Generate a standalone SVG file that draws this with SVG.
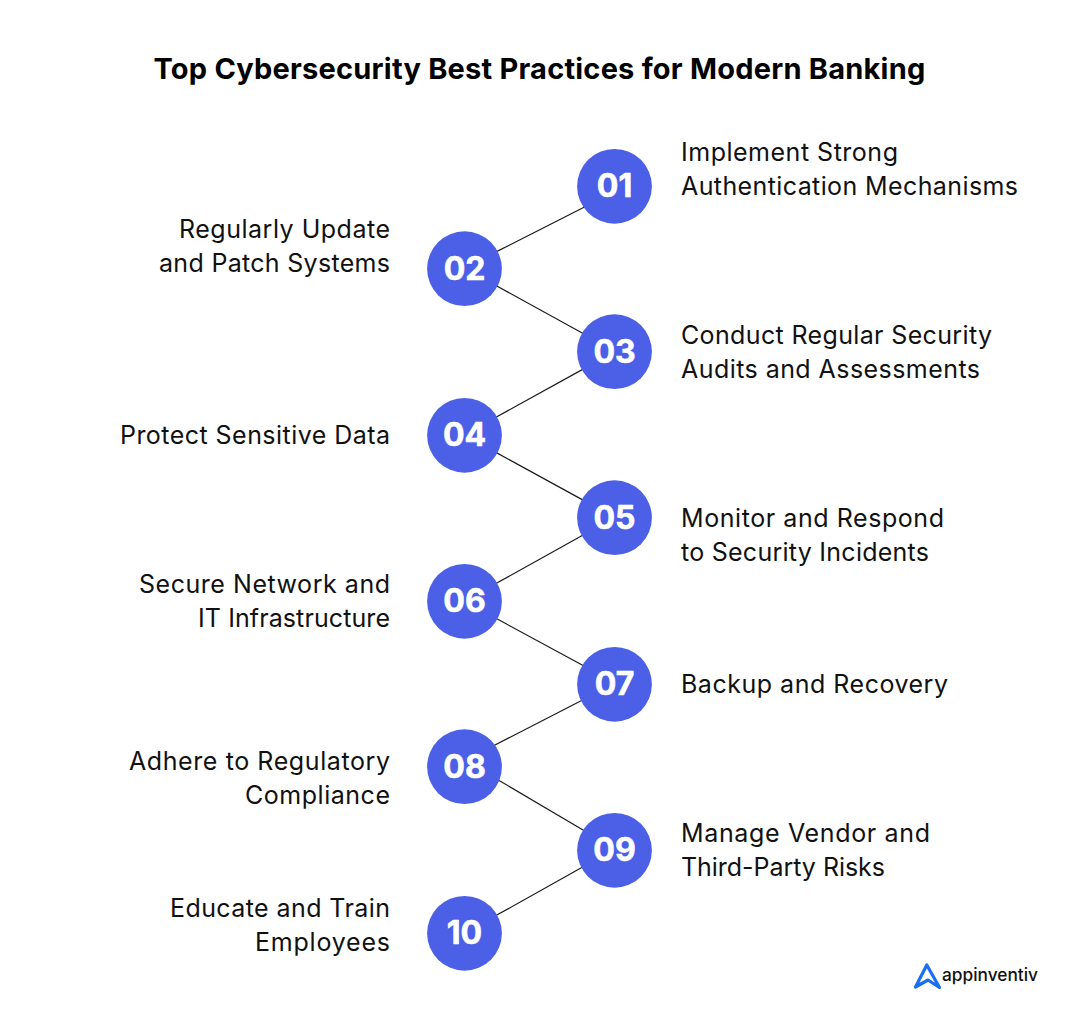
<svg xmlns="http://www.w3.org/2000/svg" width="1080" height="1021" viewBox="0 0 1080 1021">
<style>
text{font-family:"Inter","Noto Sans",sans-serif}
.t{font-size:29px;font-weight:700;fill:#000;text-anchor:middle;letter-spacing:.22px}
.l{font-size:25px;font-weight:400;fill:#111}
.e{text-anchor:end}
.c{fill:#4b60e6}
.n{font-size:32px;font-weight:700;fill:#fff;stroke:#fff;stroke-width:.6px;text-anchor:middle}
.cn line{stroke:#1a1a1a;stroke-width:1.2}
</style>
<rect width="1080" height="1021" fill="#fff"/>
<text class="t" x="539.5" y="79">Top Cybersecurity Best Practices for Modern Banking</text>
<g id="connectors" class="cn">
<line x1="585" y1="206.8" x2="495" y2="252.4"/>
<line x1="495" y1="285" x2="584" y2="334"/>
<line x1="584" y1="368.6" x2="495" y2="417.8"/>
<line x1="495" y1="451.9" x2="584" y2="500.6"/>
<line x1="584" y1="534.6" x2="495" y2="584.1"/>
<line x1="495" y1="617.8" x2="584" y2="666"/>
<line x1="584" y1="699.3" x2="493" y2="746"/>
<line x1="497" y1="779.2" x2="586" y2="831.7"/>
<line x1="584" y1="866.3" x2="495" y2="916.1"/>
</g>
<g id="node01"><circle class="c" cx="614.5" cy="186.3" r="37.4"/><text class="n" x="614.5" y="197">01</text><text class="l" x="681" y="161" textLength="217">Implement Strong</text><text class="l" x="681" y="195" textLength="337">Authentication Mechanisms</text></g>
<g id="node02"><circle class="c" cx="464.5" cy="268.7" r="37.4"/><text class="n" x="464.5" y="279.5">02</text><text class="l e" x="390" y="238" textLength="211">Regularly Update</text><text class="l e" x="390" y="272" textLength="231">and Patch Systems</text></g>
<g id="node03"><circle class="c" cx="614.5" cy="351.7" r="37.4"/><text class="n" x="614.5" y="362.5">03</text><text class="l" x="681" y="344" textLength="311">Conduct Regular Security</text><text class="l" x="681" y="378" textLength="299">Audits and Assessments</text></g>
<g id="node04"><circle class="c" cx="464.5" cy="435.3" r="37.4"/><text class="n" x="464.5" y="446">04</text><text class="l e" x="390" y="444" textLength="270">Protect Sensitive Data</text></g>
<g id="node05"><circle class="c" cx="614.5" cy="517.7" r="37.4"/><text class="n" x="614.5" y="528.5">05</text><text class="l" x="681" y="527" textLength="263">Monitor and Respond</text><text class="l" x="681" y="561" textLength="248">to Security Incidents</text></g>
<g id="node06"><circle class="c" cx="464.5" cy="601.3" r="37.4"/><text class="n" x="464.5" y="612">06</text><text class="l e" x="390" y="593" textLength="251">Secure Network and</text><text class="l e" x="390" y="627" textLength="192">IT Infrastructure</text></g>
<g id="node07"><circle class="c" cx="614.5" cy="684.3" r="37.4"/><text class="n" x="614.5" y="695">07</text><text class="l" x="681" y="693" textLength="267">Backup and Recovery</text></g>
<g id="node08"><circle class="c" cx="464.5" cy="766.7" r="37.4"/><text class="n" x="464.5" y="777.5">08</text><text class="l e" x="390" y="770" textLength="261">Adhere to Regulatory</text><text class="l e" x="390" y="804" textLength="145">Compliance</text></g>
<g id="node09"><circle class="c" cx="614.5" cy="850.3" r="37.4"/><text class="n" x="614.5" y="861">09</text><text class="l" x="681" y="842" textLength="249">Manage Vendor and</text><text class="l" x="681" y="876" textLength="204">Third-Party Risks</text></g>
<g id="node10"><circle class="c" cx="464.5" cy="933.3" r="37.4"/><text class="n" x="464.5" y="944">10</text><text class="l e" x="390" y="917" textLength="220">Educate and Train</text><text class="l e" x="390" y="951" textLength="135">Employees</text></g>
<g id="logo"><path d="M915.5 987 L926.8 965 L939.5 987.5 L928 980 Z" fill="none" stroke="#1a6ef5" stroke-width="3.2" stroke-linejoin="round"/><text x="942" y="981" font-size="17.3" font-weight="500" fill="#111">appinventiv</text></g>
</svg>
